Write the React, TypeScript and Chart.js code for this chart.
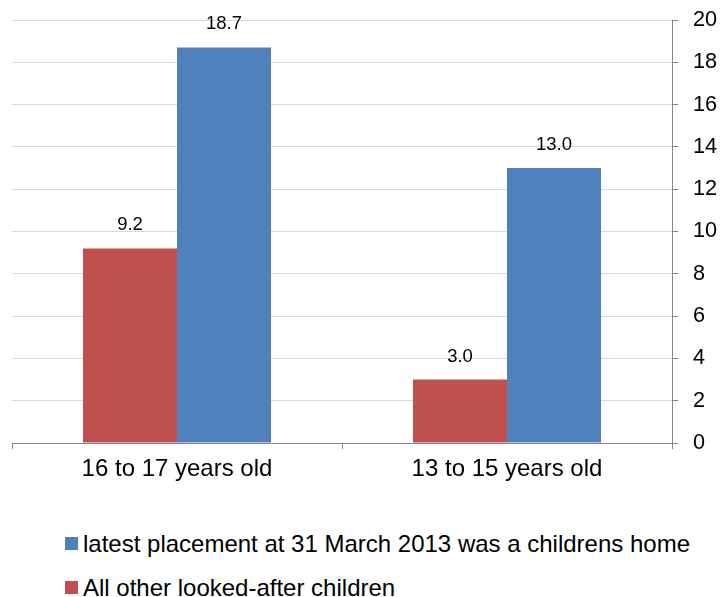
import React, { useEffect, useRef } from "react";
import { Chart, registerables } from "chart.js";

Chart.register(...registerables);

const categories = ["16 to 17 years old", "13 to 15 years old"];
const otherLabel = "All other looked-after children";
const homeLabel = "latest placement at 31 March 2013 was a childrens home";
const otherValues = [9.2, 3.0];
const homeValues = [18.7, 13.0];
const yTicks = [0, 2, 4, 6, 8, 10, 12, 14, 16, 18, 20];

const RED = "#C0504D";
const BLUE = "#4F81BD";
const FONT = "'Liberation Sans', Arial, sans-serif";

const dataLabels = {
  id: "dataLabels",
  afterDatasetsDraw(chart: any) {
    const ctx = chart.ctx;
    ctx.save();
    ctx.font = `18.5px ${FONT}`;
    ctx.fillStyle = "#000";
    ctx.textAlign = "center";
    ctx.textBaseline = "alphabetic";
    chart.data.datasets.forEach((ds: any, i: number) => {
      const meta = chart.getDatasetMeta(i);
      meta.data.forEach((bar: any, j: number) => {
        ctx.fillText(Number(ds.data[j]).toFixed(1), bar.x, bar.y - 18);
      });
    });
    ctx.restore();
  },
};

export default function App() {
  const ref = useRef<HTMLCanvasElement>(null);
  useEffect(() => {
    if (!ref.current) return;
    const chart = new Chart(ref.current, {
      type: "bar",
      data: {
        labels: categories,
        datasets: [
          { label: otherLabel, data: otherValues, backgroundColor: RED, categoryPercentage: 0.5697, barPercentage: 1 },
          { label: homeLabel, data: homeValues, backgroundColor: BLUE, categoryPercentage: 0.5697, barPercentage: 1 },
        ],
      },
      options: {
        animation: false,
        responsive: false,
        maintainAspectRatio: false,
        layout: { padding: { left: 12, right: 0, top: 20, bottom: 0 } },
        plugins: { legend: { display: false }, tooltip: { enabled: false } },
        scales: {
          x: {
            offset: true,
            afterFit: (axis: any) => {
              axis.height = 47;
              axis.paddingLeft = 0;
              axis.paddingRight = 0;
            },
            grid: {
              offset: true,
              drawOnChartArea: false,
              drawTicks: true,
              tickLength: 6,
              tickColor: "#868686",
            },
            border: { color: "#868686", width: 1 },
            ticks: { color: "#000", font: { family: FONT, size: 24 }, padding: 6 },
          },
          y: {
            position: "right",
            min: 0,
            max: 20,
            afterFit: (axis: any) => {
              axis.width = 48;
              axis.paddingTop = 0;
              axis.paddingBottom = 0;
            },
            afterBuildTicks: (axis: any) => {
              axis.ticks = yTicks.map((v) => ({ value: v }));
            },
            grid: { color: "#d9d9d9", tickColor: "#868686", tickLength: 6, drawTicks: true },
            border: { color: "#868686", width: 1 },
            ticks: { color: "#000", font: { family: FONT, size: 21.7 }, padding: 15 },
          },
        },
      },
      plugins: [dataLabels],
    });
    return () => chart.destroy();
  }, []);

  const legendItem = (color: string, text: string, top: number) => (
    <div style={{ position: "absolute", left: 65, top, height: 13, display: "flex", alignItems: "center" }}>
      <div style={{ width: 13, height: 13, background: color, flex: "none" }} />
      <div style={{ marginLeft: 5, fontFamily: FONT, fontSize: 24, color: "#000", whiteSpace: "nowrap", lineHeight: "13px" }}>
        {text}
      </div>
    </div>
  );

  return (
    <div style={{ position: "absolute", left: 0, top: 0, width: 720, height: 597, background: "#fff" }}>
      <canvas ref={ref} width={720} height={490} style={{ position: "absolute", left: 0, top: 0 }} />
      {legendItem(BLUE, homeLabel, 537)}
      {legendItem(RED, otherLabel, 581)}
    </div>
  );
}
